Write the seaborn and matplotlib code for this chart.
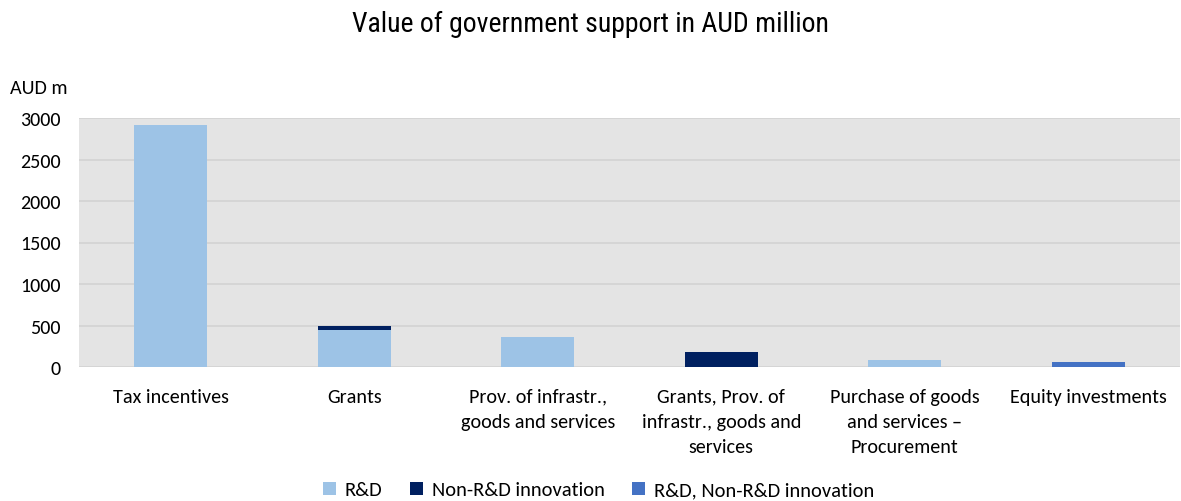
import matplotlib
matplotlib.use("Agg")
import matplotlib.pyplot as plt
from matplotlib.patches import Patch
import seaborn as sns
import pandas as pd
import numpy as np

categories = [
    "Tax incentives",
    "Grants",
    "Prov. of infrastr.,\ngoods and services",
    "Grants, Prov. of\ninfrastr., goods and\nservices",
    "Purchase of goods\nand services \u2013\nProcurement",
    "Equity investments",
]
series_names = ["R&D", "Non-R&D innovation", "R&D, Non-R&D innovation"]
rd = [2910, 440, 360, 0, 85, 0]
non_rd = [0, 60, 0, 180, 0, 0]
rd_non_rd = [0, 0, 0, 0, 0, 60]
colors = ["#9DC3E6", "#002060", "#4472C4"]

sns.set_theme(style="white")
plt.rcParams["font.family"] = ["Carlito", "DejaVu Sans"]
plt.rcParams["text.color"] = "black"
fs = 14.5

fig = plt.figure(figsize=(11.81, 5.02), dpi=100)
ax = fig.add_axes([79 / 1181, 1 - 368 / 502, (1180 - 79) / 1181, (368 - 119) / 502])
ax.set_facecolor("#E4E4E4")

# stacked bars: draw cumulative heights from the top layer down
layers = np.array([rd, non_rd, rd_non_rd], dtype=float)
cum = np.cumsum(layers, axis=0)
for i in range(len(series_names) - 1, -1, -1):
    df = pd.DataFrame({"category": categories, "value": cum[i]})
    sns.barplot(data=df, x="category", y="value", color=colors[i],
                width=0.4, saturation=1, linewidth=0, ax=ax, zorder=3)

ax.set_ylim(0, 3000)
ax.set_yticks(np.arange(0, 3001, 500))
ax.yaxis.grid(True, color="#D2D2D2", linewidth=1.2, zorder=0)
ax.set_axisbelow(True)
for s in ax.spines.values():
    s.set_visible(False)
ax.set_xlabel("")
ax.set_ylabel("")
ax.tick_params(axis="y", labelsize=fs, labelcolor="black", length=0, pad=13)
ax.tick_params(axis="x", labelsize=fs, labelcolor="black", length=0, pad=15)
ax.set_xticks(range(len(categories)), labels=categories,
              linespacing=1.58, va="top", fontsize=fs)

fig.text(10 / 1181, 1 - 88 / 502, "AUD m", fontsize=fs, ha="left", va="center")
fig.text(0.5, 1 - 24 / 502, "Value of government support in AUD million",
         fontsize=20, ha="center", va="center", color="black",
         family=["Roboto Condensed", "DejaVu Sans"])

handles = [Patch(facecolor=c, edgecolor="none") for c in colors]
fig.legend(handles, series_names, loc="center", bbox_to_anchor=(0.507, 1 - 491 / 502),
           ncol=3, frameon=False, fontsize=14.8, handlelength=0.6, handleheight=0.6,
           handletextpad=0.45, columnspacing=1.35)

fig.savefig("out.png", dpi=100, facecolor="white")
